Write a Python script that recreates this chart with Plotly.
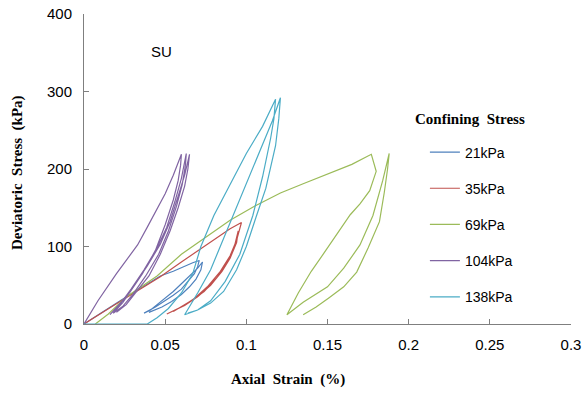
import plotly.graph_objects as go

# ---------------- data ----------------
series_names = ["21kPa", "35kPa", "69kPa", "104kPa", "138kPa"]
series_colors = ["#4F81BD", "#C0504D", "#9BBB59", "#8064A2", "#4BACC6"]

# 21 kPa (blue)
strain_21 = [0, 0.008, 0.015, 0.023, 0.030, 0.039, 0.047, 0.055, 0.062, 0.067, 0.071,
             0.070, 0.068, 0.064, 0.060, 0.055, 0.050, 0.044, 0.037,
             0.041, 0.045, 0.050, 0.055, 0.060, 0.065, 0.070, 0.073,
             0.072, 0.069, 0.065, 0.060, 0.054, 0.048, 0.043, 0.040]
stress_21 = [0, 11, 20, 31, 40, 52, 62, 68, 75, 79, 82,
             74, 65, 55, 45, 37, 30, 22, 14,
             18, 25, 33, 42, 52, 62, 72, 80,
             70, 58, 48, 38, 29, 22, 17, 15]

# 35 kPa (red)
strain_35 = [0, 0.008, 0.016, 0.030, 0.047, 0.060, 0.071, 0.082, 0.090, 0.097,
             0.096, 0.094, 0.090, 0.084, 0.076, 0.068, 0.060, 0.051,
             0.056, 0.062, 0.070, 0.078, 0.085, 0.090, 0.094, 0.095,
             0.093, 0.089, 0.082, 0.074, 0.066, 0.059, 0.055]
stress_35 = [0, 10, 21, 39, 61, 80, 96, 112, 123, 131,
             122, 108, 88, 68, 48, 33, 22, 13,
             18, 24, 35, 50, 68, 85, 105, 120,
             103, 83, 60, 42, 30, 21, 16]

# 69 kPa (green)
strain_69 = [0.007, 0.015, 0.026, 0.045, 0.060, 0.075, 0.090, 0.105, 0.121, 0.135, 0.150, 0.165, 0.177,
             0.180, 0.176, 0.170, 0.164, 0.156, 0.148, 0.140, 0.132, 0.125,
             0.135, 0.150, 0.160, 0.170, 0.178, 0.184, 0.188,
             0.187, 0.185, 0.182, 0.175, 0.168, 0.160, 0.151, 0.143, 0.135]
stress_69 = [0, 13, 35, 62, 90, 112, 134, 152, 169, 181, 193, 206, 219,
             197, 172, 155, 141, 116, 92, 68, 40, 12,
             28, 48, 72, 102, 140, 185, 220,
             200, 170, 132, 98, 67, 48, 34, 22, 12]

# 104 kPa (purple)
strain_104 = [0, 0.004, 0.0086, 0.020, 0.033, 0.039, 0.045, 0.050, 0.055, 0.060,
              0.0595, 0.058, 0.055, 0.050, 0.044, 0.036, 0.028, 0.021, 0.016,
              0.022, 0.029, 0.037, 0.045, 0.051, 0.056, 0.060, 0.063,
              0.0625, 0.0605, 0.057, 0.052, 0.046, 0.038, 0.030, 0.024, 0.018,
              0.024, 0.031, 0.039, 0.047, 0.053, 0.058, 0.062, 0.065,
              0.064, 0.062, 0.058, 0.053, 0.047, 0.040, 0.032, 0.026, 0.020]
stress_104 = [0, 14, 30, 65, 102, 125, 148, 168, 192, 219,
              205, 185, 160, 128, 95, 65, 40, 24, 12,
              25, 45, 70, 98, 125, 158, 188, 220,
              205, 180, 152, 120, 90, 62, 38, 23, 14,
              28, 50, 75, 103, 132, 165, 192, 219,
              200, 178, 150, 120, 90, 62, 40, 25, 15]

# 138 kPa (cyan)
strain_138 = [0, 0.010, 0.020, 0.030, 0.039, 0.045, 0.052, 0.060, 0.067, 0.072, 0.080, 0.090, 0.100, 0.110, 0.118,
              0.117, 0.115, 0.110, 0.104, 0.096, 0.087, 0.078, 0.070, 0.062,
              0.065, 0.070, 0.078, 0.086, 0.094, 0.102, 0.110, 0.116, 0.121,
              0.120, 0.118, 0.112, 0.106, 0.100, 0.094, 0.086, 0.078, 0.070, 0.064]
stress_138 = [0, 0, 0, 0, 0, 8, 20, 40, 65, 100, 140, 180, 220, 255, 290,
              265, 240, 190, 140, 90, 55, 30, 18, 12,
              22, 40, 70, 110, 150, 190, 230, 262, 292,
              265, 230, 175, 138, 100, 70, 42, 27, 18, 14]

x_ticks = [0, 0.05, 0.1, 0.15, 0.2, 0.25, 0.3]
x_tick_text = ["0", "0.05", "0.1", "0.15", "0.2", "0.25", "0.3"]
y_ticks = [0, 100, 200, 300, 400]

# ---------------- figure ----------------
xs = [strain_21, strain_35, strain_69, strain_104, strain_138]
ys = [stress_21, stress_35, stress_69, stress_104, stress_138]

fig = go.Figure()
for name, col, x, y in zip(series_names, series_colors, xs, ys):
    fig.add_trace(go.Scatter(x=x, y=y, mode="lines", name=name, legendgroup=name,
                             line=dict(color=col, width=1.2)))

axis_common = dict(showgrid=False, zeroline=False, showline=True, linecolor="#7f7f7f",
                   linewidth=1, ticks="inside", tickcolor="#7f7f7f", ticklen=5,
                   automargin=False,
                   tickfont=dict(family="Liberation Sans, Arial", size=15, color="black"))

fig.update_layout(
    width=586, height=394,
    margin=dict(l=84, r=15, t=14, b=70, autoexpand=False),
    paper_bgcolor="white", plot_bgcolor="white",
    xaxis=dict(range=[0, 0.3], tickvals=x_ticks, ticktext=x_tick_text,
               ticklabelstandoff=7, **axis_common),
    yaxis=dict(range=[0, 400], tickvals=y_ticks,
               ticklabelstandoff=8, **axis_common),
    showlegend=True,
    legend=dict(x=0.70, y=0.605, xanchor="left", yanchor="top",
                font=dict(family="Liberation Sans, Arial", size=14, color="black"),
                tracegroupgap=15, itemwidth=30, bgcolor="rgba(0,0,0,0)"),
)

title_font = dict(family="Liberation Serif, Times New Roman", size=15, color="black")
fig.add_annotation(text="<b>Axial&nbsp; Strain&nbsp; (%)</b>", xref="paper", yref="paper",
                   x=0.419, y=-0.18, xanchor="center", yanchor="middle",
                   showarrow=False, font=title_font)
fig.add_annotation(text="<b>Deviatoric&nbsp; Stress&nbsp; (kPa)</b>", xref="paper", yref="paper",
                   x=-0.1376, y=0.49, xanchor="center", yanchor="middle", textangle=-90,
                   showarrow=False, font=title_font)
fig.add_annotation(text="<b>Confining&nbsp; Stress</b>", xref="paper", yref="paper",
                   x=(470 - 84) / 487, y=(324 - 119) / 310, xanchor="center", yanchor="middle",
                   showarrow=False, font=title_font)
fig.add_annotation(text="SU", xref="x", yref="y", x=0.048, y=352,
                   xanchor="center", yanchor="middle", showarrow=False,
                   font=dict(family="Liberation Sans, Arial", size=15, color="black"))

fig.write_html("out.html")
